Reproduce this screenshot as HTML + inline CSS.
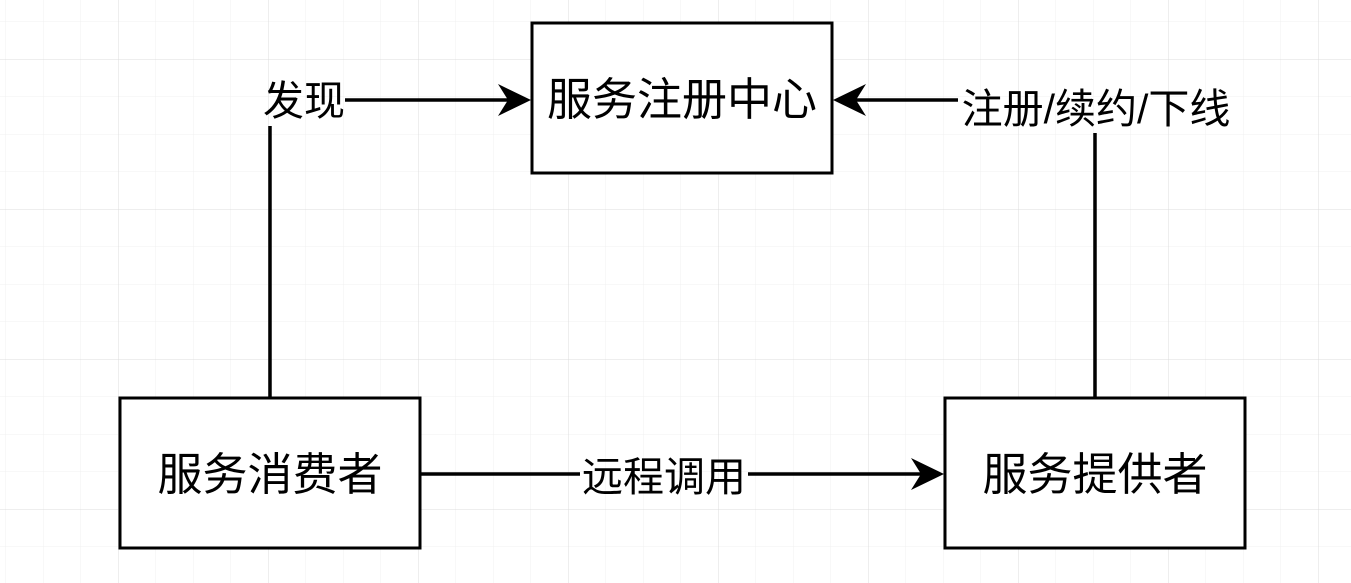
<!DOCTYPE html>
<html><head><meta charset="utf-8"><style>
html,body{margin:0;padding:0;background:#fff;}
svg{display:block}
text{font-family:"Liberation Sans","Noto Sans CJK SC",sans-serif;fill:#000}
</style></head><body>
<svg width="1351" height="583" viewBox="0 0 1351 583" xmlns="http://www.w3.org/2000/svg">
<defs>
<pattern id="minor" x="5.5" y="21.5" width="37.5" height="37.5" patternUnits="userSpaceOnUse">
<path d="M0 0H37.5M0 0V37.5" fill="none" stroke="#f0f0f0" stroke-width="1"/>
</pattern>
<pattern id="major" x="118" y="59" width="150" height="150" patternUnits="userSpaceOnUse">
<path d="M0 0H150M0 0V150" fill="none" stroke="#dcdcdc" stroke-width="1"/>
</pattern>
</defs>
<rect width="1351" height="583" fill="url(#minor)"/>
<rect width="1351" height="583" fill="url(#major)"/>

<g fill="#fff" stroke="#000" stroke-width="3">
<rect x="532" y="23" width="300" height="150"/>
<rect x="120" y="398" width="300" height="150"/>
<rect x="945" y="398" width="300" height="150"/>
</g>
<g font-size="45" text-anchor="middle">
<text x="682" y="115">服务注册中心</text>
<text x="270" y="490">服务消费者</text>
<text x="1095" y="490">服务提供者</text>
</g>

<g stroke="#000" stroke-width="3.5" fill="none">
<path d="M270 398V126"/>
<path d="M345 100H510"/>
<path d="M1095 398V133"/>
<path d="M958 100H852"/>
<path d="M420 474H580"/>
<path d="M748 474H922"/>
</g>
<g fill="#000">
<path d="M531 100L498 84L508 100L498 116Z"/>
<path d="M833 100L866 84L856 100L866 116Z"/>
<path d="M944 474L911 458L921 474L911 490Z"/>
</g>
<g font-size="41" text-anchor="middle">
<text x="304" y="115">发现</text>
<text x="1096" y="123">注册/续约/下线</text>
<text x="664" y="491">远程调用</text>
</g>
</svg>
</body></html>
